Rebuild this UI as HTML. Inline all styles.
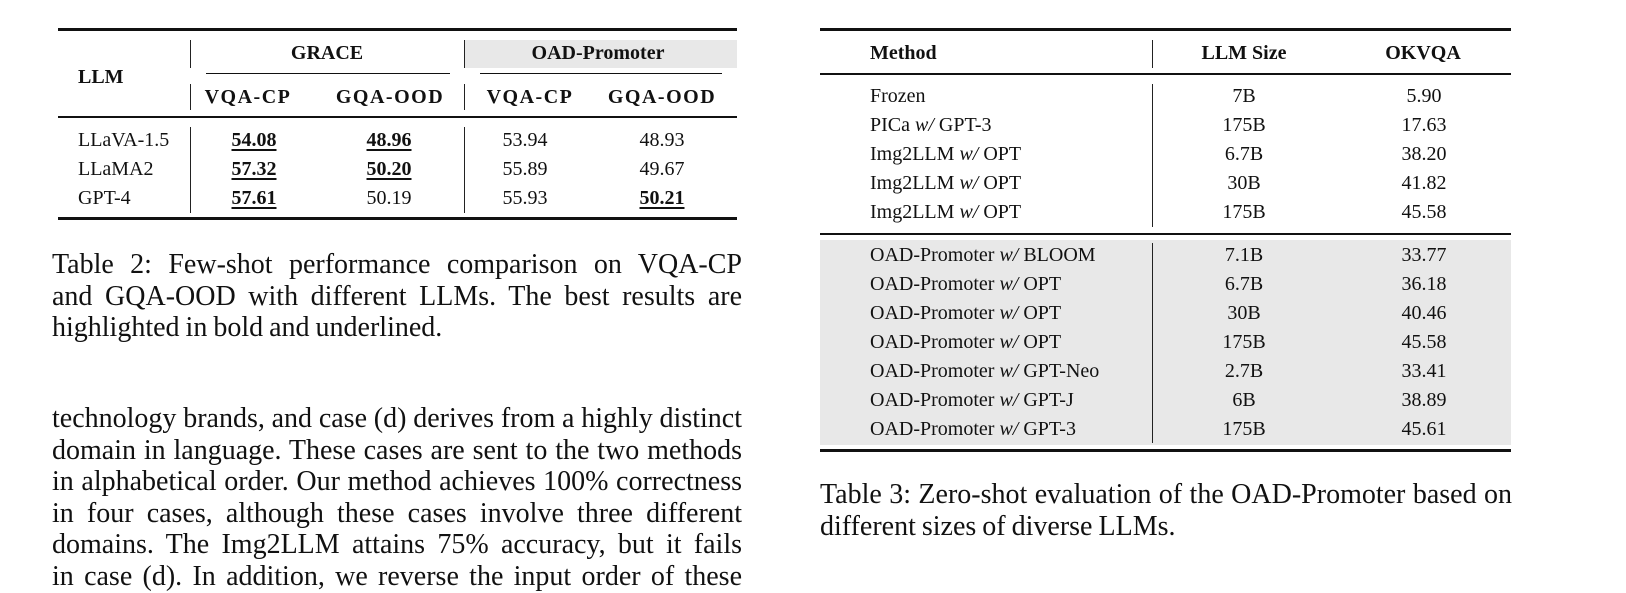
<!DOCTYPE html>
<html><head><meta charset="utf-8"><style>
body{margin:0;width:1626px;height:593px;background:#fff;position:relative;overflow:hidden;font-family:"Liberation Serif",serif;color:#111}
.a{position:absolute;white-space:nowrap}
.c{transform:translateX(-50%)}
.t{font-size:20px;line-height:22px}
.h{font-size:20px;font-weight:bold;line-height:22px}
.r{position:absolute;background:#111}
.v{position:absolute;width:1px;background:#222}
.bu{font-weight:bold;text-decoration:underline;text-decoration-thickness:1.5px;text-underline-offset:3px}
.cap{position:absolute;font-size:28px;line-height:31.5px;text-align:justify;word-spacing:-1px}
.cap span{display:block;text-align-last:justify;white-space:nowrap}
</style></head><body>
<div>
<div class="r" style="left:58px;top:28px;width:679px;height:3px"></div>
<div class="a" style="left:465px;top:40px;width:272px;height:28px;background:#e8e8e8"></div>
<div class="a h" style="left:78px;top:66px">LLM</div>
<div class="a h c" style="left:327px;top:42px">GRACE</div>
<div class="a h c" style="left:598px;top:42px">OAD-Promoter</div>
<div class="r" style="left:206px;top:73px;width:244px;height:1px"></div>
<div class="r" style="left:480px;top:73px;width:242px;height:1px"></div>
<div class="v" style="left:190px;top:40px;height:28px"></div>
<div class="v" style="left:190px;top:84px;height:26px"></div>
<div class="v" style="left:464px;top:40px;height:28px"></div>
<div class="v" style="left:464px;top:84px;height:26px"></div>
<div class="a h c" style="left:248px;top:86px;letter-spacing:1.5px">VQA-CP</div>
<div class="a h c" style="left:390px;top:86px;letter-spacing:1.5px">GQA-OOD</div>
<div class="a h c" style="left:530px;top:86px;letter-spacing:1.5px">VQA-CP</div>
<div class="a h c" style="left:662px;top:86px;letter-spacing:1.5px">GQA-OOD</div>
<div class="r" style="left:58px;top:116px;width:679px;height:2px"></div>
<div class="v" style="left:190px;top:127px;height:86px"></div>
<div class="v" style="left:464px;top:127px;height:86px"></div>
<div class="a t" style="left:78px;top:129px">LLaVA-1.5</div>
<div class="a t c bu" style="left:254px;top:129px">54.08</div>
<div class="a t c bu" style="left:389px;top:129px">48.96</div>
<div class="a t c" style="left:525px;top:129px">53.94</div>
<div class="a t c" style="left:662px;top:129px">48.93</div>
<div class="a t" style="left:78px;top:158px">LLaMA2</div>
<div class="a t c bu" style="left:254px;top:158px">57.32</div>
<div class="a t c bu" style="left:389px;top:158px">50.20</div>
<div class="a t c" style="left:525px;top:158px">55.89</div>
<div class="a t c" style="left:662px;top:158px">49.67</div>
<div class="a t" style="left:78px;top:187px">GPT-4</div>
<div class="a t c bu" style="left:254px;top:187px">57.61</div>
<div class="a t c" style="left:389px;top:187px">50.19</div>
<div class="a t c" style="left:525px;top:187px">55.93</div>
<div class="a t c bu" style="left:662px;top:187px">50.21</div>
<div class="r" style="left:58px;top:217px;width:679px;height:3px"></div>
</div>
<div class="cap" style="left:52px;top:249px;width:690px">
<span>Table 2: Few-shot performance comparison on VQA-CP</span><span>and GQA-OOD with different LLMs. The best results are</span><span style="text-align-last:left">highlighted in bold and underlined.</span></div>
<div class="cap" style="left:52px;top:403px;width:690px">
<span>technology brands, and case (d) derives from a highly distinct</span><span>domain in language. These cases are sent to the two methods</span><span>in alphabetical order. Our method achieves 100% correctness</span><span>in four cases, although these cases involve three different</span><span>domains. The Img2LLM attains 75% accuracy, but it fails</span><span>in case (d). In addition, we reverse the input order of these</span></div>

<div>
<div class="r" style="left:820px;top:28px;width:691px;height:3px"></div>
<div class="a h" style="left:870px;top:42px">Method</div>
<div class="a h c" style="left:1244px;top:42px">LLM Size</div>
<div class="a h c" style="left:1423px;top:42px">OKVQA</div>
<div class="v" style="left:1152px;top:40px;height:28px"></div>
<div class="r" style="left:820px;top:73px;width:691px;height:2px"></div>
<div class="v" style="left:1152px;top:84px;height:143px"></div>
<div class="a" style="left:820px;top:240px;width:691px;height:205px;background:#e8e8e8"></div>
<div class="r" style="left:820px;top:233px;width:691px;height:2px"></div>
<div class="v" style="left:1152px;top:243px;height:200px"></div>
<div id="rows"></div>
<div class="r" style="left:820px;top:449px;width:691px;height:3px"></div>
</div>
<div class="cap" style="left:820px;top:479px;width:692px">
<span>Table 3: Zero-shot evaluation of the OAD-Promoter based on</span><span style="text-align-last:left">different sizes of diverse LLMs.</span></div>
<script>
const methods=["Frozen","PICa <i>w/</i> GPT-3","Img2LLM <i>w/</i> OPT","Img2LLM <i>w/</i> OPT","Img2LLM <i>w/</i> OPT","OAD-Promoter <i>w/</i> BLOOM","OAD-Promoter <i>w/</i> OPT","OAD-Promoter <i>w/</i> OPT","OAD-Promoter <i>w/</i> OPT","OAD-Promoter <i>w/</i> GPT-Neo","OAD-Promoter <i>w/</i> GPT-J","OAD-Promoter <i>w/</i> GPT-3"];
const sizes=["7B","175B","6.7B","30B","175B","7.1B","6.7B","30B","175B","2.7B","6B","175B"];
const scores=["5.90","17.63","38.20","41.82","45.58","33.77","36.18","40.46","45.58","33.41","38.89","45.61"];
const box=document.getElementById('rows');
methods.forEach((m,i)=>{
  const y=(i<5?85+i*29:244+(i-5)*29);
  const a=document.createElement('div');a.className='a t';a.style.left='870px';a.style.top=y+'px';a.innerHTML=m;
  
  
  const b=document.createElement('div');b.className='a t c';b.style.left='1244px';b.style.top=y+'px';b.textContent=sizes[i];
  
  
  const c=document.createElement('div');c.className='a t c';c.style.left='1424px';c.style.top=y+'px';c.textContent=scores[i];
  
  
  box.append(a,b,c);
});
</script>
</body></html>
